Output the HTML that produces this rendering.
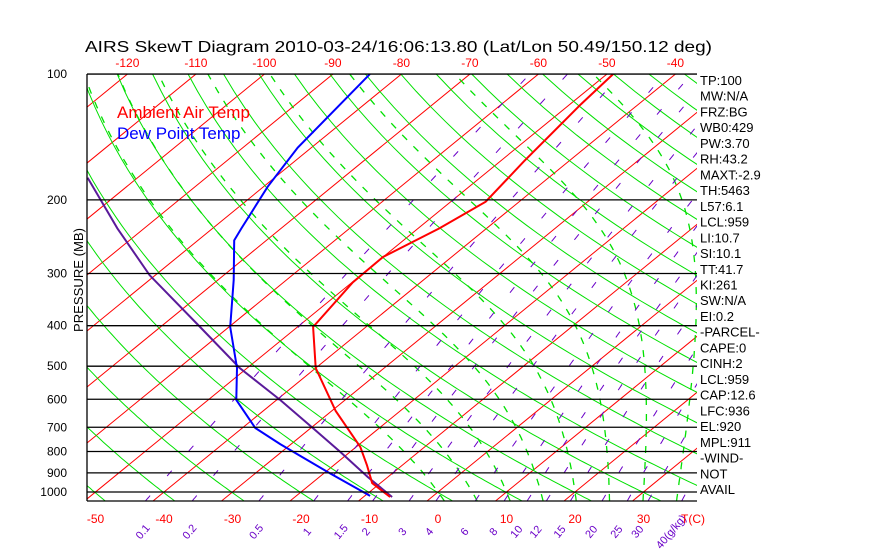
<!DOCTYPE html>
<html><head><meta charset="utf-8"><style>
body{margin:0;background:#fff;width:870px;height:560px;overflow:hidden}
svg{display:block;font-family:"Liberation Sans",sans-serif}
</style></head><body>
<svg id="c" width="870" height="560" viewBox="0 0 870 560">
<defs><clipPath id="pc"><rect x="87" y="74" width="610" height="427"/></clipPath></defs>
<g id="grid" clip-path="url(#pc)"></g>
<g id="series" clip-path="url(#pc)"></g>
<g id="axes"></g>
<text x="85" y="52" font-size="16" textLength="627" lengthAdjust="spacingAndGlyphs" fill="#000">AIRS SkewT Diagram 2010-03-24/16:06:13.80 (Lat/Lon 50.49/150.12 deg)</text>
<text x="117" y="118" font-size="17" fill="#ff0000">Ambient Air Temp</text>
<text x="117" y="139" font-size="17" fill="#0000ff">Dew Point Temp</text>
<text transform="translate(83,280) rotate(-90)" text-anchor="middle" font-size="13" textLength="104" lengthAdjust="spacingAndGlyphs">PRESSURE (MB)</text>
</svg>
<script>
const pressureTicks=[100,200,300,400,500,600,700,800,900,1000];
const topTempTicks=[-120,-110,-100,-90,-80,-70,-60,-50,-40];
const bottomTempTicks=[-50,-40,-30,-20,-10,0,10,20,30];
const mixRatios=[0.1,0.2,0.5,1,1.5,2,3,4,6,8,10,12,15,20,25,30,40];
const tempP=[1028,952,862,780,640,505,403,315,274,234,202,162,118,100];
const tempT=[-6.1,-11.2,-15.2,-19.4,-29.4,-40.0,-47.7,-49.9,-50.0,-46.9,-44.9,-46.5,-48.4,-49.1];
const dewP=[1022,901,768,703,602,505,403,311,250,234,186,150,100];
const dewT=[-9.2,-19.2,-31.6,-38.1,-45.9,-51.5,-59.8,-67.7,-74.7,-75.8,-79.4,-82.0,-84.6];
const parcelP=[1028,921,802,703,602,505,403,303,234,177];
const parcelT=[-5.8,-12.9,-21.4,-29.7,-39.5,-51.1,-64.2,-80.8,-93.9,-107.3];
const moistStarts=[0,5,10,15,20,25,30,35,40];
const statLabels=["TP:100","MW:N/A","FRZ:BG","WB0:429","PW:3.70","RH:43.2","MAXT:-2.9","TH:5463","L57:6.1","LCL:959","LI:10.7","SI:10.1","TT:41.7","KI:261","SW:N/A","EI:0.2","-PARCEL-","CAPE:0","CINH:2","LCL:959","CAP:12.6","LFC:936","EL:920","MPL:911","-WIND-","NOT","AVAIL"];

const NS="http://www.w3.org/2000/svg";
const K=181.5;
function yP(p){return 492-K*Math.log(1000/p);}
function xT(T,p){return 438+6.85*T+1.2237*K*Math.log(1000/p);}
function mk(tag,attrs,parent){const e=document.createElementNS(NS,tag);for(const k in attrs)e.setAttribute(k,attrs[k]);parent.appendChild(e);return e;}
const grid=document.getElementById('grid'),series=document.getElementById('series'),axes=document.getElementById('axes');
function pathFrom(ps,ts){let d='';for(let i=0;i<ps.length;i++){d+=(i?'L':'M')+xT(ts[i],ps[i]).toFixed(1)+','+yP(ps[i]).toFixed(1);}return d;}

for(let T=-160;T<=50;T+=10){
  const l=mk('line',{x1:xT(T,1050),y1:yP(1050),x2:xT(T,100),y2:yP(100),stroke:'#ff0000','stroke-width':1},grid);
  
  
}
for(let th=183;th<=483;th+=10){
  let d='';for(let p=1050;p>=100;p-=10){const T=th*Math.pow(p/1000,0.286)-273.15;d+=(p==1050?'M':'L')+xT(T,p).toFixed(1)+','+yP(p).toFixed(1);}
  const e=mk('path',{d:d,fill:'none',stroke:'#00e000','stroke-width':1},grid);
  
  
}
function es(Tc){return 6.112*Math.exp(17.67*Tc/(Tc+243.5));}
function moistLine(T0){
  const pts=[];let Td=T0+273.15;
  for(let p=1000;p<1050;p+=1){const rs=0.622*es(Td-273.15)/(p-es(Td-273.15));const g=(287*Td+2.5e6*rs)/(1004+2.5e6*2.5e6*rs*0.622/(287*Td*Td))/p;Td+=g;}
  let T=Td;
  for(let p=1050;p>=100;p-=1){
    if(p%10==0)pts.push([p,T-273.15]);
    const rs=0.622*es(T-273.15)/(p-es(T-273.15));
    const g=(287*T+2.5e6*rs)/(1004+2.5e6*2.5e6*rs*0.622/(287*T*T))/p;
    T-=g;
  }
  return pts;
}
moistStarts.forEach(T0=>{
  const pts=moistLine(T0);
  const e=mk('path',{d:pathFrom(pts.map(a=>a[0]),pts.map(a=>a[1])),fill:'none',stroke:'#00e000','stroke-width':1.3,'stroke-dasharray':'7 9'},grid);
  
  
});
function wTd(w,p){const e=w*p/(622+w);const l=Math.log(e/6.112);return 243.5*l/(17.67-l);}
mixRatios.forEach(w=>{
  let d='';for(let p=1050;p>=100;p-=10){d+=(p==1050?'M':'L')+xT(wTd(w,p),p).toFixed(1)+','+yP(p).toFixed(1);}
  const e=mk('path',{d:d,fill:'none',stroke:'#6a00c8','stroke-width':1,'stroke-dasharray':'7 26'},grid);
  
  
  const off=w<=0.5?0:(w<=4?-4:-8);
  const lx=xT(wTd(w,1050),1050)+off;
  const t=mk('text',{transform:'translate('+lx.toFixed(1)+',534) rotate(-50)','font-size':11,fill:'#6a00c8','text-anchor':'middle'},axes);
  t.textContent=(w==40?'40(g/kg)':String(w));
  
  
});
pressureTicks.forEach(p=>{
  const l=mk('line',{x1:87,x2:697,y1:yP(p),y2:yP(p),stroke:'#000','stroke-width':1.3},axes);
  
  
  const t=mk('text',{x:67,y:yP(p)+4,'font-size':12,'text-anchor':'end',fill:'#000'},axes);
  t.textContent=p;
  
  
});
const lb=mk('line',{x1:87,x2:697,y1:501,y2:501,stroke:'#000','stroke-width':1.3},axes);


const ll=mk('line',{x1:87,x2:87,y1:74,y2:501,stroke:'#000','stroke-width':1.3},axes);


topTempTicks.forEach(T=>{
  const t=mk('text',{x:xT(T,100),y:67,'font-size':12,'text-anchor':'middle',fill:'#ff0000'},axes);
  t.textContent=T;
  
  
});
bottomTempTicks.forEach(T=>{
  const t=mk('text',{x:xT(T,1000),y:523,'font-size':12,'text-anchor':'middle',fill:'#ff0000'},axes);
  t.textContent=T;
  
  
});
const tc=mk('text',{x:681,y:523,'font-size':12,fill:'#ff0000'},axes);
tc.textContent='T(C)';


statLabels.forEach((s,i)=>{
  const t=mk('text',{x:700,y:85+i*15.73,'font-size':13,fill:'#000'},axes);
  t.textContent=s;
  
  
});
const parcel=mk('path',{d:pathFrom(parcelP,parcelT),fill:'none',stroke:'#5a1a9a','stroke-width':2},series);


const dew=mk('path',{d:pathFrom(dewP,dewT),fill:'none',stroke:'#0000ff','stroke-width':2},series);


const temp=mk('path',{d:pathFrom(tempP,tempT),fill:'none',stroke:'#ff0000','stroke-width':2},series);


</script>
</body></html>
